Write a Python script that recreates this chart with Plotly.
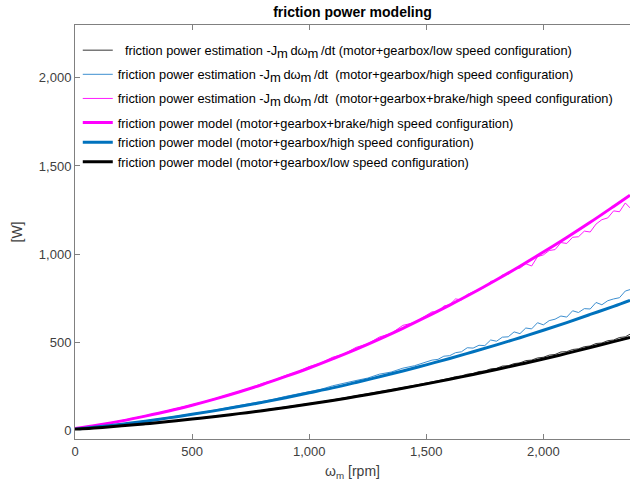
import plotly.graph_objects as go

# ---- data ----
model_rpm = [0, 100, 200, 300, 400, 500, 600, 700, 800, 900, 1000, 1100, 1200,
             1300, 1400, 1500, 1600, 1700, 1800, 1900, 2000, 2100, 2200, 2300, 2370]
model_brake = [10, 30, 53, 80, 109, 142, 178, 217, 259, 305, 353, 405, 459,
               517, 578, 643, 710, 780, 854, 931, 1011, 1094, 1180, 1270, 1334]
model_high = [5, 19, 34, 51, 70, 90, 111, 134, 158, 184, 212, 240, 271,
              303, 336, 371, 407, 445, 484, 525, 567, 611, 657, 703, 737]
model_low = [5, 14, 25, 36, 49, 63, 78, 94, 111, 129, 149, 169, 191,
             214, 238, 263, 289, 316, 344, 374, 404, 436, 469, 503, 527]

est_rpm = [0, 50, 100, 150, 200, 250, 300, 350, 400, 450, 500, 550, 600, 650, 700,
           750, 800, 850, 900, 950, 1000, 1050, 1100, 1150, 1200, 1250, 1300, 1350,
           1400, 1450, 1500, 1525, 1550, 1575, 1600, 1625, 1650, 1675, 1700, 1725,
           1750, 1775, 1800, 1825, 1850, 1875, 1900, 1925, 1950, 1975, 2000, 2025,
           2050, 2075, 2100, 2125, 2150, 2175, 2200, 2225, 2250, 2275, 2300, 2325,
           2350, 2370]
est_brake = [10, 20, 31, 42, 55, 67, 82, 96, 111, 127, 145, 161, 181, 199, 222,
             240, 266, 284, 311, 331, 361, 381, 414, 433, 470, 490, 529, 549,
             595, 611, 652, 672, 670, 705, 712, 745, 740, 770, 785, 800,
             812, 845, 850, 880, 885, 915, 920, 945, 932, 985, 995, 1020,
             1025, 1065, 1060, 1095, 1098, 1130, 1125, 1170, 1195, 1205, 1245, 1240,
             1290, 1262]
est_high = [5, 12, 20, 27, 36, 44, 53, 62, 72, 81, 93, 103, 115, 126, 140,
            150, 166, 176, 192, 205, 222, 232, 252, 265, 282, 296, 318, 330,
            352, 366, 390, 398, 402, 420, 423, 440, 445, 468, 466, 482,
            480, 512, 505, 528, 530, 558, 548, 580, 575, 610, 598, 622,
            630, 648, 642, 678, 668, 690, 688, 725, 712, 735, 745, 752,
            790, 798]
est_low = [5, 10, 15, 20, 25, 31, 37, 43, 50, 57, 64, 71, 79, 87, 95,
           104, 113, 122, 131, 141, 151, 161, 172, 183, 194, 206, 218, 230,
           242, 255, 268, 276, 280, 290, 294, 304, 308, 318, 322, 333,
           336, 348, 351, 364, 366, 378, 382, 395, 398, 410, 414, 426,
           430, 444, 446, 458, 462, 474, 478, 492, 495, 508, 512, 526,
           530, 545]

NB = "\u00a0"
TH = "\u2009"
SUBM = "<sub><span style=\"font-size:13px\">m</span></sub>"
EST = "friction power estimation -J" + SUBM + TH + "d" + "ω" + SUBM + TH + "/dt"
names = [
    NB + NB + EST + " (motor+gearbox/low speed configuration)",
    EST + NB + NB + "(motor+gearbox/high speed configuration)",
    EST + NB + NB + "(motor+gearbox+brake/high speed configuration)",
    "friction power model (motor+gearbox+brake/high speed configuration)",
    "friction power model (motor+gearbox/high speed configuration)",
    "friction power model (motor+gearbox/low speed configuration)",
]
groups = ["g1", "g2", "g3", "g4", "g4", "g4"]

MAG = "#FF00FF"
BLUE = "#0072BD"
BLUE_L = "#3D8FD0"

fig = go.Figure()
fig.add_trace(go.Scatter(x=est_rpm, y=est_low, mode="lines", name=names[0], legendgroup=groups[0],
                         line=dict(color="black", width=0.8)))
fig.add_trace(go.Scatter(x=est_rpm, y=est_high, mode="lines", name=names[1], legendgroup=groups[1],
                         line=dict(color=BLUE_L, width=1)))
fig.add_trace(go.Scatter(x=est_rpm, y=est_brake, mode="lines", name=names[2], legendgroup=groups[2],
                         line=dict(color=MAG, width=0.9)))
fig.add_trace(go.Scatter(x=model_rpm, y=model_brake, mode="lines", name=names[3], legendgroup=groups[3],
                         line=dict(color=MAG, width=3, shape="spline")))
fig.add_trace(go.Scatter(x=model_rpm, y=model_high, mode="lines", name=names[4], legendgroup=groups[4],
                         line=dict(color=BLUE, width=3, shape="spline")))
fig.add_trace(go.Scatter(x=model_rpm, y=model_low, mode="lines", name=names[5], legendgroup=groups[5],
                         line=dict(color="black", width=3, shape="spline")))

axis_col = "#262626"
fig.update_layout(
    width=630, height=492,
    margin=dict(l=75, r=0, t=25, b=53),
    paper_bgcolor="white", plot_bgcolor="white",
    font=dict(family="Liberation Sans, Arial, sans-serif", color=axis_col, size=12),
    title=dict(text="<b>friction power modeling</b>", x=(75 + 630) / 2 / 630, xanchor="center",
               y=1 - 12 / 492, yanchor="middle", font=dict(size=14, color="black")),
    showlegend=True,
    legend=dict(x=0.005, y=0.975, xanchor="left", yanchor="top", bgcolor="rgba(0,0,0,0)",
                itemwidth=30, tracegroupgap=4.5, font=dict(size=12.8, color="black"),
                traceorder="grouped"),
    xaxis=dict(range=[0, 2370], showgrid=False, zeroline=False, showline=True,
               linecolor="#808080", linewidth=1, mirror="allticks", ticks="inside",
               ticklen=5, tickcolor="#808080", tickvals=[0, 500, 1000, 1500, 2000],
               ticktext=["0", "500", "1,000", "1,500", "2,000"],
               tickfont=dict(size=13, color="#404040"),
               title=dict(text="ω<sub>m</sub> [rpm]", font=dict(size=14, color="#404040"), standoff=8)),
    yaxis=dict(range=[-50, 2300], showgrid=False, zeroline=False, showline=True,
               linecolor="#808080", linewidth=1, ticks="inside", ticklen=5,
               tickcolor="#808080", tickvals=[0, 500, 1000, 1500, 2000],
               ticktext=["0", "500", "1,000", "1,500", "2,000"],
               tickfont=dict(size=13, color="#404040"),
               title=dict(text="[W]", font=dict(size=14, color="#404040"), standoff=12)),
)

fig.write_html("out.html")
